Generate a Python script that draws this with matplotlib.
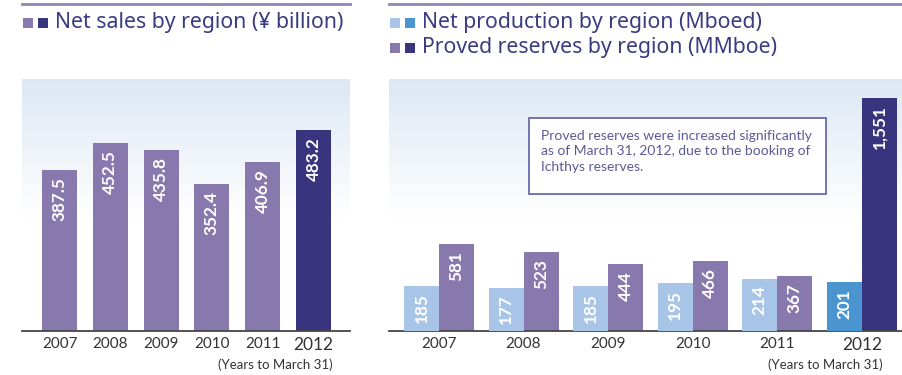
import numpy as np
import matplotlib.pyplot as plt
from matplotlib.patches import Rectangle
from matplotlib.lines import Line2D

plt.rcParams['font.family'] = ['Lato', 'DejaVu Sans']

# Data
years = ['2007', '2008', '2009', '2010', '2011', '2012']
net_sales = [387.5, 452.5, 435.8, 352.4, 406.9, 483.2]
net_sales_labels = ['387.5', '452.5', '435.8', '352.4', '406.9', '483.2']
production = [185, 177, 185, 195, 214, 201]
reserves = [581, 523, 444, 466, 367, 1551]
reserves_labels = ['581', '523', '444', '466', '367', '1,551']

# Colours
purple_light = '#8779ad'
purple_dark = '#38357e'
blue_light = '#a8c4e6'
blue_dark = '#4a94d0'
title_col = '#3b3b82'

W, H = 903, 375
fig = plt.figure(figsize=(W / 100, H / 100), dpi=100)


def fx(px):
    return px / W


def fy(py):
    return 1 - py / H


# gradient background (light blue at top fading to white)
grad = np.linspace(0, 1, 256).reshape(-1, 1)
top = np.array([0.867, 0.910, 0.957])
fade = np.clip(grad / 0.55, 0, 1)
rgb = top[None, None, :] * (1 - fade[..., None]) + np.ones(3)[None, None, :] * fade[..., None]


def style_axes(ax):
    ax.imshow(rgb, extent=[0, 1, 0, 1], transform=ax.transAxes, aspect='auto', zorder=0)
    for s in ['top', 'right', 'left']:
        ax.spines[s].set_visible(False)
    ax.spines['bottom'].set_color('#444444')
    ax.spines['bottom'].set_linewidth(1.3)
    ax.spines['bottom'].set_zorder(5)
    ax.set_yticks([])
    ax.tick_params(axis='x', length=0, pad=4)


def label_bars(ax, bars, labels):
    for b, lab in zip(bars, labels):
        ax.annotate(lab, (b.get_x() + b.get_width() / 2, b.get_height()),
                    xytext=(0, -5), textcoords='offset points',
                    rotation=90, ha='center', va='top', color='white',
                    fontsize=12.3, fontweight='bold', zorder=6)


def year_ticks(ax, x):
    ax.set_xticks(x)
    ax.set_xticklabels(years)
    for i, t in enumerate(ax.get_xticklabels()):
        t.set_color('#333333')
        t.set_fontsize(12.5 if i == len(years) - 1 else 11)


# ---- Left panel: net sales
axl = fig.add_axes([fx(22), 1 - 331 / H, fx(350) - fx(22), 252 / H])
style_axes(axl)
x = np.arange(len(years))
cols = [purple_light] * 5 + [purple_dark]
bars = axl.bar(x, net_sales, width=0.69, color=cols, zorder=3)
label_bars(axl, bars, net_sales_labels)
axl.set_xlim(-0.74, 5.72)
axl.set_ylim(0, 606)
year_ticks(axl, x)

# ---- Right panel: production and reserves
axr = fig.add_axes([fx(389), 1 - 331 / H, 1 - fx(389), 252 / H])
style_axes(axr)
axp = axr.twinx()
axp.axis('off')
w = 0.414
rcols = [purple_light] * 5 + [purple_dark]
pcols = [blue_light] * 5 + [blue_dark]
rbars = axr.bar(x + w / 2, reserves, width=w, color=rcols, zorder=3)
pbars = axp.bar(x - w / 2, production, width=w, color=pcols, zorder=3)
label_bars(axr, rbars, reserves_labels)
label_bars(axp, pbars, [str(v) for v in production])
axr.set_xlim(-0.59, 5.485)
axp.set_xlim(-0.59, 5.485)
axr.set_ylim(0, 1678)
axp.set_ylim(0, 1030)
year_ticks(axr, x)

# note box
fig.text(fx(541), fy(130),
         'Proved reserves were increased significantly\n'
         'as of March 31, 2012, due to the booking of\n'
         'Ichthys reserves.',
         fontsize=10, color='#5a5a98', va='top', ha='left', linespacing=1.33)
fig.patches.append(Rectangle((fx(529), fy(194)), fx(826) - fx(529), (194 - 118) / H,
                             transform=fig.transFigure, facecolor='white',
                             edgecolor='#6a6aaa', linewidth=1.3, zorder=1))

# top rules
fig.add_artist(Line2D([fx(22), fx(350)], [fy(3.5), fy(3.5)], color='#8a8ab5', lw=2))
fig.add_artist(Line2D([fx(389), 1], [fy(3.5), fy(3.5)], color='#8a8ab5', lw=2))


# titles with square markers
def title(px, py, text, c1, c2):
    for i, c in enumerate([c1, c2]):
        fig.patches.append(Rectangle((fx(px + 15 * i), fy(py)), 10 / W, 10 / H,
                                     transform=fig.transFigure, facecolor=c, edgecolor='none'))
    fig.text(fx(px + 32), fy(py), text, fontsize=15.3, color=title_col,
             va='baseline', ha='left', family='Noto Sans')


title(23, 28, 'Net sales by region (¥ billion)', purple_light, purple_dark)
title(390, 28, 'Net production by region (Mboed)', blue_light, blue_dark)
title(390, 53, 'Proved reserves by region (MMboe)', purple_light, purple_dark)

fig.text(fx(333), fy(369), '(Years to March 31)', fontsize=9.5, color='#333333', ha='right', va='baseline')
fig.text(fx(883), fy(369), '(Years to March 31)', fontsize=9.5, color='#333333', ha='right', va='baseline')

fig.savefig('out.png', dpi=100)
